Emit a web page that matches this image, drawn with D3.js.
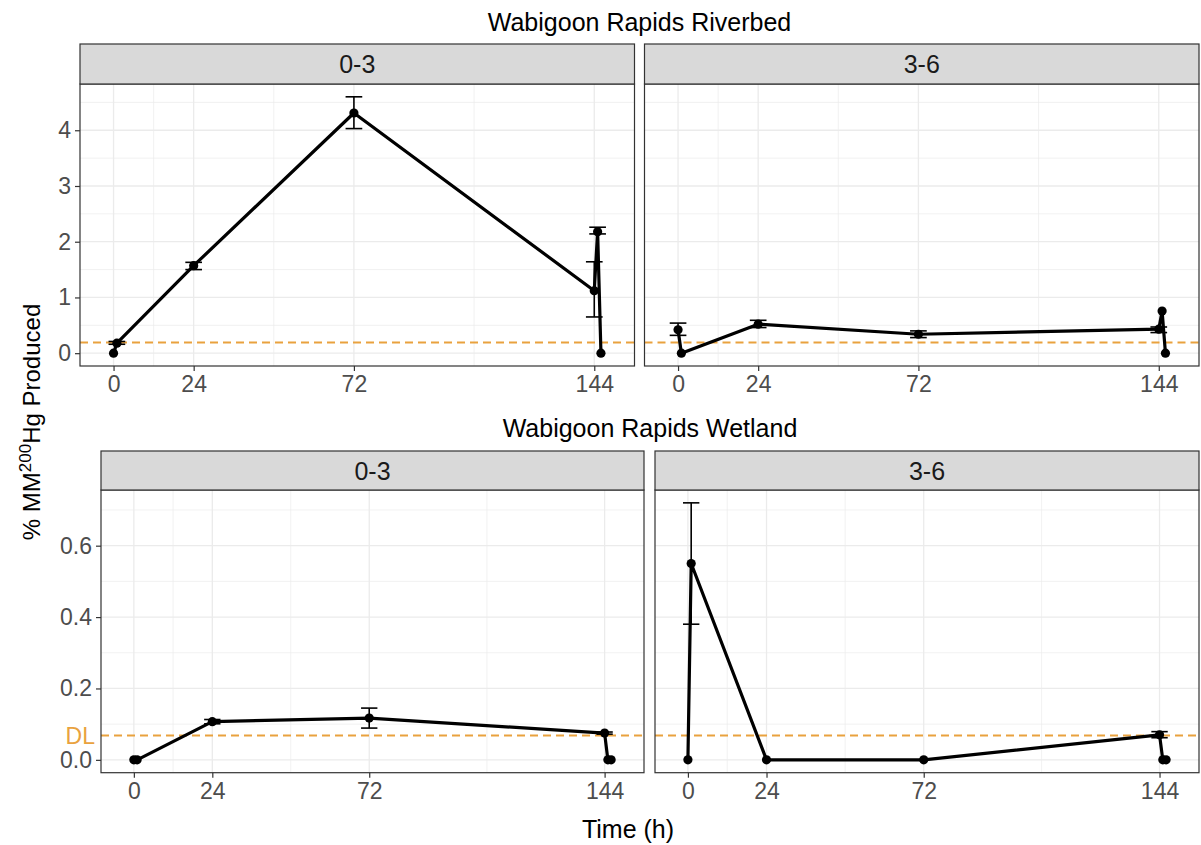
<!DOCTYPE html>
<html>
<head>
<meta charset="utf-8">
<script src="https://cdn.jsdelivr.net/npm/d3@7"></script>
<style>
  html, body { margin: 0; padding: 0; background: #fff; }
  svg { display: block; font-family: "Liberation Sans", Arial, sans-serif; }
</style>
</head>
<body>
<svg id="chart" width="1201" height="845"></svg>
<script>
// ---------------- DATA ----------------
const hours = [0, 1, 24, 72, 144, 145, 146];
const xTicks = [0, 24, 72, 144];
const xMinorTicks = [12, 48, 108];

const rowTitles = ["Wabigoon Rapids Riverbed", "Wabigoon Rapids Wetland"];
const depthLabels = ["0-3", "3-6"];

// Riverbed 0-3
const riverbed03Mean = [0, 0.18, 1.57, 4.31, 1.12, 2.18, 0];
const riverbed03Lo   = [null, 0.16, 1.50, 4.03, 0.65, 2.14, null];
const riverbed03Hi   = [null, 0.21, 1.63, 4.60, 1.64, 2.26, null];
// Riverbed 3-6
const riverbed36Mean = [0.42, 0, 0.52, 0.34, 0.43, 0.755, 0];
const riverbed36Lo   = [0.32, null, 0.46, 0.28, 0.37, null, null];
const riverbed36Hi   = [0.54, null, 0.59, 0.40, 0.47, null, null];
// Wetland 0-3
const wetland03Mean = [0, 0, 0.107, 0.117, 0.075, 0, 0];
const wetland03Lo   = [null, null, 0.101, 0.089, 0.072, null, null];
const wetland03Hi   = [null, null, 0.113, 0.145, 0.078, null, null];
// Wetland 3-6
const wetland36Mean = [0, 0.55, 0, 0, 0.07, 0, 0];
const wetland36Lo   = [null, 0.38, null, null, 0.062, null, null];
const wetland36Hi   = [null, 0.72, null, null, 0.079, null, null];

const riverbedYTicks = [0, 1, 2, 3, 4];
const riverbedYMinor = [0.5, 1.5, 2.5, 3.5, 4.5];
const wetlandYTicks = [0, 0.2, 0.4, 0.6];
const wetlandYMinor = [0.1, 0.3, 0.5, 0.7];

const riverbedDL = 0.19;
const wetlandDL = 0.068;
const dlLabel = "DL";
const errorBarWidthH = 5;

// ---------------- LAYOUT ----------------
const svg = d3.select("#chart");
const DL_COLOR = "#E9A23E";
const GRID = "#EBEBEB";
const BORDER = "#333333";

function series(mean, lo, hi) {
  return hours.map((h, i) => ({ h, v: mean[i], lo: lo[i], hi: hi[i] }));
}

const allX = [0 - errorBarWidthH / 2, 146 + errorBarWidthH / 2];
const xr = allX[1] - allX[0];
const xDomain = [allX[0] - 0.05 * xr, allX[1] + 0.05 * xr];

const rows = [
  {
    title: rowTitles[0], titleY: 31,
    stripTop: 44, top: 84, bottom: 366,
    panels: [
      { x0: 80, x1: 634.5, label: depthLabels[0], data: series(riverbed03Mean, riverbed03Lo, riverbed03Hi) },
      { x0: 644.5, x1: 1199, label: depthLabels[1], data: series(riverbed36Mean, riverbed36Lo, riverbed36Hi) }
    ],
    yTicks: riverbedYTicks, yMinor: riverbedYMinor, dl: riverbedDL, showDL: false,
    yMax: 4.60, yMin: 0, fmt: d3.format("d")
  },
  {
    title: rowTitles[1], titleY: 437,
    stripTop: 451, top: 490, bottom: 772.7,
    panels: [
      { x0: 101, x1: 644, label: depthLabels[0], data: series(wetland03Mean, wetland03Lo, wetland03Hi) },
      { x0: 655, x1: 1199, label: depthLabels[1], data: series(wetland36Mean, wetland36Lo, wetland36Hi) }
    ],
    yTicks: wetlandYTicks, yMinor: wetlandYMinor, dl: wetlandDL, showDL: true,
    yMax: 0.72, yMin: 0, fmt: d3.format(".1f")
  }
];

rows.forEach(row => {
  const yr = row.yMax - row.yMin;
  const y = d3.scaleLinear()
    .domain([row.yMin - 0.05 * yr, row.yMax + 0.05 * yr])
    .range([row.bottom, row.top]);

  // row title
  const cx = (row.panels[0].x0 + row.panels[1].x1) / 2;
  svg.append("text").attr("x", cx).attr("y", row.titleY)
    .attr("text-anchor", "middle").attr("font-size", 25).attr("fill", "#000")
    .text(row.title);

  row.panels.forEach((p, pi) => {
    const x = d3.scaleLinear().domain(xDomain).range([p.x0, p.x1]);
    const g = svg.append("g");

    // grid minor
    g.selectAll(".vminor").data(xMinorTicks).join("line")
      .attr("x1", d => x(d)).attr("x2", d => x(d))
      .attr("y1", row.top).attr("y2", row.bottom)
      .attr("stroke", GRID).attr("stroke-width", 0.7);
    g.selectAll(".hminor").data(row.yMinor).join("line")
      .attr("x1", p.x0).attr("x2", p.x1)
      .attr("y1", d => y(d)).attr("y2", d => y(d))
      .attr("stroke", GRID).attr("stroke-width", 0.7);
    // grid major
    g.selectAll(".vmajor").data(xTicks).join("line")
      .attr("x1", d => x(d)).attr("x2", d => x(d))
      .attr("y1", row.top).attr("y2", row.bottom)
      .attr("stroke", GRID).attr("stroke-width", 1.3);
    g.selectAll(".hmajor").data(row.yTicks).join("line")
      .attr("x1", p.x0).attr("x2", p.x1)
      .attr("y1", d => y(d)).attr("y2", d => y(d))
      .attr("stroke", GRID).attr("stroke-width", 1.3);

    // DL dashed line
    g.append("line")
      .attr("x1", p.x0).attr("x2", p.x1)
      .attr("y1", y(row.dl)).attr("y2", y(row.dl))
      .attr("stroke", DL_COLOR).attr("stroke-width", 2)
      .attr("stroke-dasharray", "8,5");

    // error bars
    const eb = p.data.filter(d => d.lo != null);
    const hw = errorBarWidthH / 2;
    eb.forEach(d => {
      const ge = g.append("g").attr("stroke", "#000").attr("stroke-width", 1.6).attr("fill", "none");
      ge.append("line").attr("x1", x(d.h)).attr("x2", x(d.h)).attr("y1", y(d.lo)).attr("y2", y(d.hi));
      ge.append("line").attr("x1", x(d.h - hw)).attr("x2", x(d.h + hw)).attr("y1", y(d.lo)).attr("y2", y(d.lo));
      ge.append("line").attr("x1", x(d.h - hw)).attr("x2", x(d.h + hw)).attr("y1", y(d.hi)).attr("y2", y(d.hi));
    });

    // line
    const line = d3.line().x(d => x(d.h)).y(d => y(d.v));
    g.append("path").datum(p.data).attr("d", line)
      .attr("fill", "none").attr("stroke", "#000").attr("stroke-width", 3.2)
      .attr("stroke-linejoin", "round");

    // points
    g.selectAll(".pt").data(p.data).join("circle")
      .attr("cx", d => x(d.h)).attr("cy", d => y(d.v)).attr("r", 4.6).attr("fill", "#000");

    // panel border
    g.append("rect").attr("x", p.x0).attr("y", row.top)
      .attr("width", p.x1 - p.x0).attr("height", row.bottom - row.top)
      .attr("fill", "none").attr("stroke", BORDER).attr("stroke-width", 1.2);

    // strip
    g.append("rect").attr("x", p.x0).attr("y", row.stripTop)
      .attr("width", p.x1 - p.x0).attr("height", row.top - row.stripTop)
      .attr("fill", "#D9D9D9").attr("stroke", BORDER).attr("stroke-width", 1.2);
    g.append("text").attr("x", (p.x0 + p.x1) / 2).attr("y", (row.stripTop + row.top) / 2 + 9)
      .attr("text-anchor", "middle").attr("font-size", 25).attr("fill", "#1A1A1A")
      .text(p.label);

    // x axis
    const xAxis = d3.axisBottom(x).tickValues(xTicks).tickSize(5).tickPadding(5)
      .tickFormat(d3.format("d"));
    const ga = svg.append("g").attr("transform", `translate(0,${row.bottom})`).call(xAxis);
    ga.select(".domain").remove();
    ga.selectAll(".tick line").attr("stroke", BORDER).attr("stroke-width", 1.2);
    ga.selectAll(".tick text").attr("font-size", 23).attr("fill", "#4D4D4D")
      .attr("font-family", "Liberation Sans, Arial, sans-serif");

    // y axis (left panel only)
    if (pi === 0) {
      const yAxis = d3.axisLeft(y).tickValues(row.yTicks).tickSize(5).tickPadding(4)
        .tickFormat(row.fmt);
      const gy = svg.append("g").attr("transform", `translate(${p.x0},0)`).call(yAxis);
      gy.select(".domain").remove();
      gy.selectAll(".tick line").attr("stroke", BORDER).attr("stroke-width", 1.2);
      gy.selectAll(".tick text").attr("font-size", 23).attr("fill", "#4D4D4D")
        .attr("font-family", "Liberation Sans, Arial, sans-serif");
      if (row.showDL) {
        svg.append("text").attr("x", p.x0 - 6).attr("y", y(row.dl))
          .attr("dy", "0.35em").attr("text-anchor", "end")
          .attr("font-size", 23).attr("fill", DL_COLOR).text(dlLabel);
      }
    }
  });
});

// y axis title
const yt = svg.append("text")
  .attr("transform", "translate(40,422) rotate(-90)")
  .attr("text-anchor", "middle").attr("font-size", 24).attr("fill", "#000");
yt.append("tspan").text("% MM");
yt.append("tspan").attr("dy", -9).attr("font-size", 17).text("200");
yt.append("tspan").attr("dy", 9).text("Hg Produced");

// x axis title
svg.append("text").attr("x", 628).attr("y", 838)
  .attr("text-anchor", "middle").attr("font-size", 25).attr("fill", "#000")
  .text("Time (h)");
</script>
</body>
</html>
